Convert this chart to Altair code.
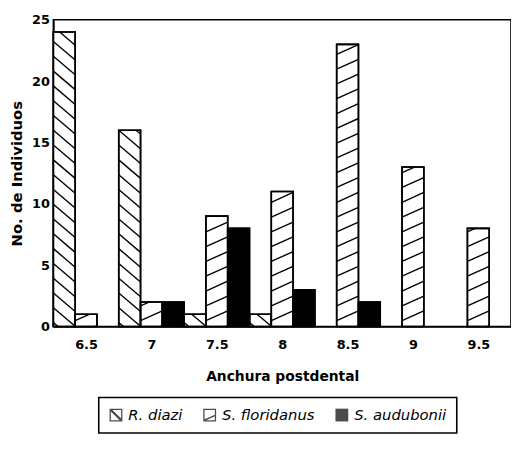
import json
import altair as alt
import numpy as np
import pandas as pd

# ---- data ----
categories = ["6.5", "7", "7.5", "8", "8.5", "9", "9.5"]
series = ["R. diazi", "S. floridanus", "S. audubonii"]
r_diazi = [24, 16, 1, 1, 0, 0, 0]
s_floridanus = [1, 2, 9, 11, 23, 13, 8]
s_audubonii = [0, 2, 8, 3, 2, 0, 0]
y_ticks = [0, 5, 10, 15, 20, 25]

# ---- layout / style ----
W, H = 464, 311
YMAX = 25
n = len(categories)
k = len(series)
# legend glyphs: filled outlines (frame + hatch stroke) in the [-1,1] box
FRAME = "M-1,-1H1V1H-1Z M-0.8,-0.8V0.8H0.8V-0.8Z "
paths = [
    FRAME + "M-1,-0.75L-0.75,-1L1,0.75L0.75,1Z",
    FRAME + "M-1,0.75L1,-0.12L1,0.12L-1,1Z",
    "M-1,-1H1V1H-1Z",
]
hatch_spec = {"R. diazi": (-0.85, 15.0, 4.0), "S. floridanus": (0.45, 15.0, 6.0)}

rows = []
for si, (name, vals) in enumerate(zip(series, [r_diazi, s_floridanus, s_audubonii])):
    for gi, v in enumerate(vals):
        rows.append(dict(series=name, cat=categories[gi], value=v,
                         x0=gi + si / k, x1=gi + (si + 1) / k, xc=gi + (si + 0.5) / k))
bars = pd.DataFrame(rows)
shown = bars[bars.value > 0].reset_index(drop=True)

px_x = W / n
px_y = H / YMAX
segs = []
for _, b in shown.iterrows():
    if b.series not in hatch_spec:
        continue
    m, sp, ph = hatch_spec[b.series]
    X0, X1, Hv = b.x0 * px_x, b.x1 * px_x, b.value * px_y
    w = X1 - X0
    cmin = min(0.0, -m * w)
    cmax = Hv + max(0.0, -m * w)
    c = np.floor((cmin - ph) / sp) * sp + ph
    while c <= cmax:
        xa = X0 + (0 - c) / m
        xb = X0 + (Hv - c) / m
        lo = max(X0, min(xa, xb))
        hi = min(X1, max(xa, xb))
        if hi - lo > 1.0:
            ya = c + m * (lo - X0)
            yb = c + m * (hi - X0)
            segs.append(dict(series=b.series, x0=lo / px_x, x1=hi / px_x,
                             value=ya / px_y, v2=yb / px_y))
        c += sp
hatch = pd.DataFrame(segs)

xscale = alt.Scale(domain=[0, n], nice=False, zero=False)
yscale = alt.Scale(domain=[0, YMAX], nice=False)
label_expr = json.dumps(categories) + "[floor(datum.value)]"

xaxis = alt.Axis(values=[i + 0.5 for i in range(n)], labelExpr=label_expr,
                 ticks=False, grid=False, title="Anchura postdental",
                 titleFontSize=14, labelPadding=12, titlePadding=19)
yaxis = alt.Axis(values=y_ticks, ticks=False, grid=False, title="No. de Individuos",
                 titleFontSize=15, labelPadding=4, titlePadding=7)

X = alt.X("x0:Q", scale=xscale, axis=xaxis)
Y = alt.Y("value:Q", scale=yscale, axis=yaxis)

base_fill = alt.Chart(shown).mark_rect(stroke="black", strokeWidth=1.6).encode(
    x=X, x2="x1:Q", y=Y, y2=alt.datum(0),
    fill=alt.condition(alt.datum.series == series[2], alt.value("black"), alt.value("white")),
)

lines = alt.Chart(hatch).mark_rule(color="black", strokeWidth=1.4).encode(
    x=X, x2="x1:Q", y=Y, y2="v2:Q",
)

outline = alt.Chart(shown).mark_rect(fillOpacity=0, stroke="black", strokeWidth=1.6).encode(
    x=X, x2="x1:Q", y=Y, y2=alt.datum(0),
)

# legend carrier: points kept below the plotted range and clipped away
legend_pts = alt.Chart(bars).mark_point(filled=True, color="black", clip=True).encode(
    x=alt.X("xc:Q", scale=xscale, axis=xaxis),
    y=alt.Y(datum=-5, scale=yscale, axis=yaxis),
    shape=alt.Shape("series:N", scale=alt.Scale(domain=series, range=paths),
                    legend=alt.Legend(title=None)),
)

chart = (
    alt.layer(base_fill, lines, outline, legend_pts)
    .properties(width=W, height=H,
                padding={"left": 46, "top": 9, "right": 0, "bottom": 108},
                autosize=alt.AutoSizeParams(type="none"),
                background="white")
    .configure_view(stroke="black", strokeWidth=1.6)
    .configure_axis(labelFont="DejaVu Sans", labelFontWeight="bold", labelFontSize=13,
                    labelColor="black", titleFont="DejaVu Sans", titleFontWeight="bold",
                    titleColor="black", domainColor="black", domainWidth=1.6)
    .configure_legend(orient="none", legendX=46, legendY=383, direction="horizontal",
                      strokeColor="black", strokeWidth=1.6, padding=10,
                      symbolSize=169, symbolFillColor="black", symbolStrokeWidth=0,
                      labelFont="DejaVu Sans", labelFontStyle="italic",
                      labelFontSize=15, labelColor="black", labelOffset=5,
                      columnPadding=20)
)

chart.save("out.html", embed_options={"renderer": "svg", "actions": False})
